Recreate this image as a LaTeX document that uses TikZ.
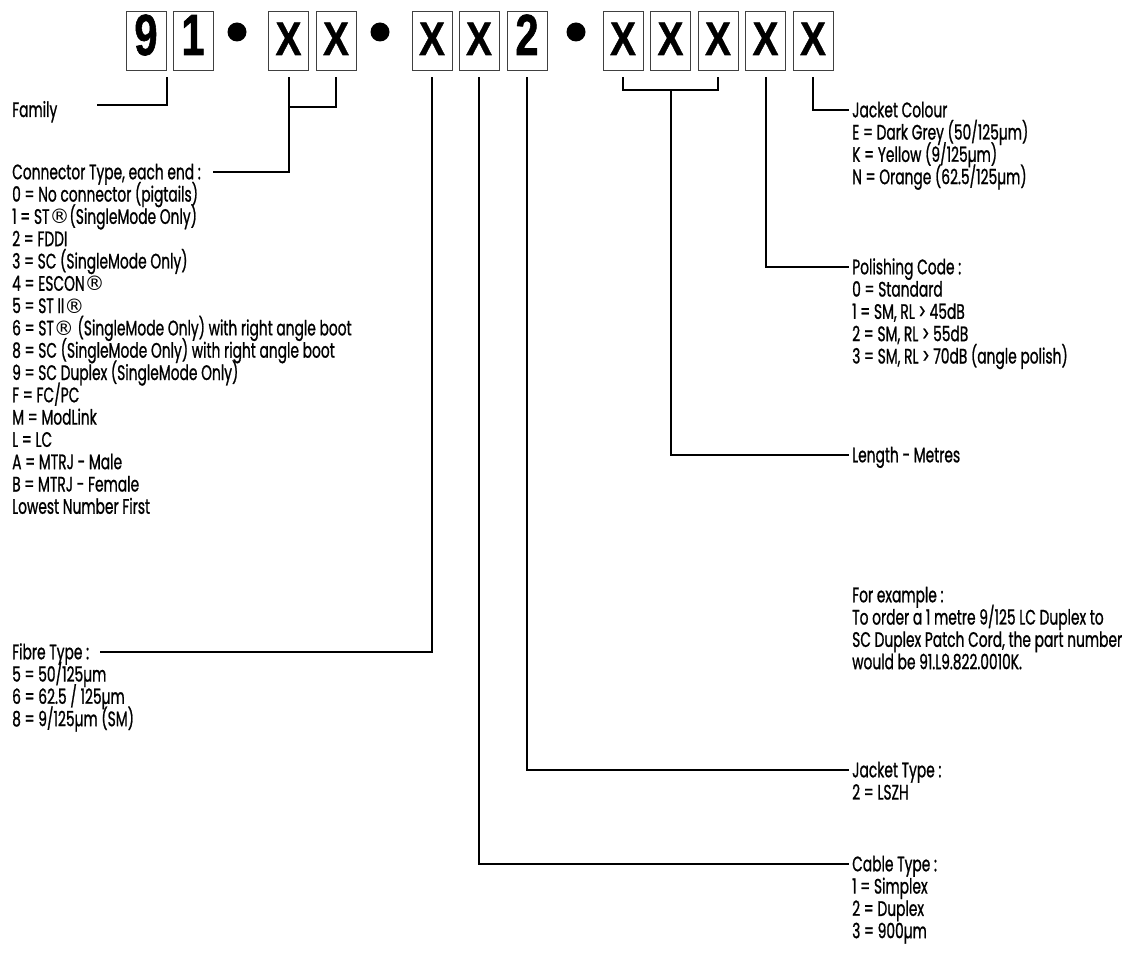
\documentclass[tikz,border=0pt]{standalone}
\usepackage{graphicx}
\usepackage{fontspec}
\setmainfont{Poppins}
\newfontfamily\probefont{Poppins}
\newfontfamily\digitfont[BoldFeatures={FakeBold=1.2}]{Liberation Sans}
\newfontfamily\regfont{DejaVu Sans}
\newlength\probelen
\settowidth\probelen{\probefont\fontsize{21}{22}\selectfont SC Duplex Patch Cord, the part number}
\pgfmathsetmacro\stretchfactor{270/\probelen}
\edef\tmpdef{\noexpand\newfontfamily\noexpand\labfont[FakeStretch=\stretchfactor,FakeBold=0.9]{Poppins}}
\tmpdef
\newcommand\reg{{\regfont\fontsize{20}{22}\selectfont ®}}
\newcommand\bigdigit[1]{\digitfont\bfseries\fontsize{58}{58}\selectfont\scalebox{0.72}[1]{#1}}
\newcommand\bigx{\digitfont\bfseries\fontsize{47}{47}\selectfont\scalebox{0.82}[1]{X}}
\begin{document}
\begin{tikzpicture}[x=1pt,y=-1pt,
  box/.style={draw=black!75, line width=1pt, minimum width=40pt, minimum height=59pt, inner sep=0pt},
  chr/.style={inner sep=0pt, anchor=base},
  sep/.style={circle, fill=black, inner sep=0pt, minimum size=19pt},
  conn/.style={line width=2pt, black},
  lbl/.style={inner sep=0pt, anchor=base west, font=\labfont\fontsize{21}{22}\selectfont},
]
\fill[white] (0,0) rectangle (1130,968);
\useasboundingbox (0,0) rectangle (1130,968);

% code boxes
\foreach \n/\x in {1/146,2/193,3/288.5,4/336,5/432,6/479,7/527,8/623,9/670.5,10/718,11/765.5,12/813}
  \node[box] (b\n) at (\x,41.5) {};
\node[chr] (t1) at (146,55) {\bigdigit{9}};
\node[chr] (t2) at (193,55) {\bigdigit{1}};
\node[chr] (t3) at (288.5,55) {\bigx};
\node[chr] (t4) at (336,55) {\bigx};
\node[chr] (t5) at (432,55) {\bigx};
\node[chr] (t6) at (479,55) {\bigx};
\node[chr] (t7) at (527,55) {\bigdigit{2}};
\foreach \n/\x in {8/623,9/670.5,10/718,11/765.5,12/813}
  \node[chr] (t\n) at (\x,55) {\bigx};
\node[sep] (d1) at (237,32) {};
\node[sep] (d2) at (380,32) {};
\node[sep] (d3) at (576,32) {};

% left column
\node[lbl] (fam) at (12,117) {Family};
\node[lbl] (ct) at (12,179.3) {Connector Type, each end :};
\foreach \t [count=\i] in {{0 = No connector (pigtails)},{1 = ST\reg(SingleMode Only)},{2 = FDDI},{3 = SC (SingleMode Only)},{4 = ESCON\reg},{5 = ST II\reg},{6 = ST\reg{} (SingleMode Only) with right angle boot},{8 = SC (SingleMode Only) with right angle boot},{9 = SC Duplex (SingleMode Only)},{F = FC/PC},{M = ModLink},{L = LC},{A = MTRJ - Male},{B = MTRJ - Female},{Lowest Number First}}
  \node[lbl] (ct\i) at (12,{179.3+22.3*\i}) {\t};
\node[lbl] (fib) at (12,659.3) {Fibre Type :};
\foreach \t [count=\i] in {{5 = 50/125µm},{6 = 62.5 / 125µm},{8 = 9/125µm (SM)}}
  \node[lbl] (fib\i) at (12,{659.3+22.3*\i}) {\t};

% right column
\node[lbl] (jc) at (852,117.3) {Jacket Colour};
\foreach \t [count=\i] in {{E = Dark Grey (50/125µm)},{K = Yellow (9/125µm)},{N = Orange (62.5/125µm)}}
  \node[lbl] (jc\i) at (852,{117.3+22.3*\i}) {\t};
\node[lbl] (pol) at (852,274.3) {Polishing Code :};
\foreach \t [count=\i] in {{0 = Standard},{1 = SM, RL > 45dB},{2 = SM, RL > 55dB},{3 = SM, RL > 70dB (angle polish)}}
  \node[lbl] (pol\i) at (852,{274.3+22.3*\i}) {\t};
\node[lbl] (len) at (852,462.3) {Length - Metres};
\node[lbl] (ex) at (852,602.3) {For example :};
\foreach \t [count=\i] in {{To order a 1 metre 9/125 LC Duplex to},{SC Duplex Patch Cord, the part number},{would be 91.L9.822.0010K.}}
  \node[lbl] (ex\i) at (852,{602.3+22.3*\i}) {\t};
\node[lbl] (jt) at (852,777.3) {Jacket Type :};
\node[lbl] (jt1) at (852,799.6) {2 = LSZH};
\node[lbl] (cab) at (852,871.3) {Cable Type :};
\foreach \t [count=\i] in {{1 = Simplex},{2 = Duplex},{3 = 900µm}}
  \node[lbl] (cab\i) at (852,{871.3+22.3*\i}) {\t};

% connectors
\coordinate (famend) at (97,105);
\draw[conn] (famend) -| ([yshift=-6pt]b1.south east);
\coordinate (ctend) at (213,172);
\draw[conn] ([yshift=-6pt]b3.south) -- (b3.south |- 0,107) -- (b4.south |- 0,107) -- ([yshift=-6pt]b4.south);
\draw[conn] (ctend) -| (b3.south |- 0,107);
\coordinate (fibend) at (100,652);
\draw[conn] (fibend) -| ([yshift=-6pt]b5.south);
\draw[conn] ([yshift=-6pt]b6.south) |- ([shift={(-3,-7.3)}]cab.base west);
\draw[conn] ([yshift=-6pt]b7.south) |- ([shift={(-3,-7.3)}]jt.base west);
\draw[conn] ([yshift=-6pt]b8.south) -- (b8.south |- 0,90) -- (b10.south |- 0,90) -- ([yshift=-6pt]b10.south);
\draw[conn] (b9.south |- 0,90) |- ([shift={(-3,-7.3)}]len.base west);
\draw[conn] ([yshift=-6pt]b11.south) |- ([shift={(-3,-7.3)}]pol.base west);
\draw[conn] ([yshift=-6pt]b12.south) |- ([shift={(-3,-7.3)}]jc.base west);
\end{tikzpicture}
\end{document}
